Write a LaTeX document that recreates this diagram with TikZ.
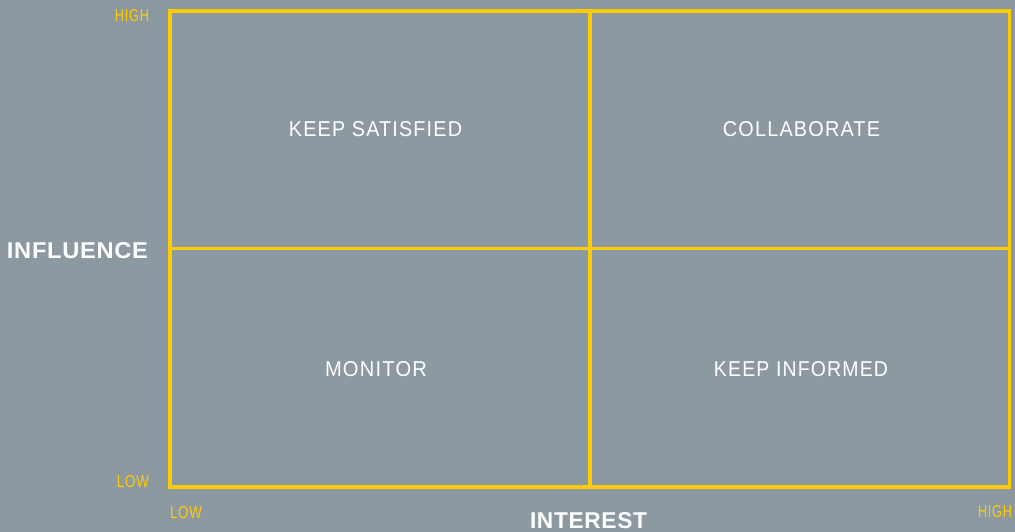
\documentclass[tikz,border=0pt]{standalone}
\usepackage{fontspec}
\usepackage{graphicx}
\setmainfont{Liberation Sans}
\newfontfamily\spacedfont[LetterSpace=6]{Liberation Sans}
\newfontfamily\boldspaced[LetterSpace=3]{Liberation Sans}
\definecolor{bgc}{HTML}{8C99A1}
\definecolor{gridy}{HTML}{FFCC00}
\newcommand{\fitbox}[3]{\resizebox{#1pt}{#2pt}{#3}}
\tikzset{
  gridline/.style={draw=gridy, line width=3.6pt},
  quadlabel/.style={text=white, inner sep=0pt, anchor=center},
  axislabel/.style={text=white, inner sep=0pt, anchor=center},
  ticklabel/.style={text=gridy, inner sep=0pt},
}
\begin{document}
\begin{tikzpicture}[x=1pt,y=-1pt]
\fill[bgc] (0,0) rectangle (1015,532);
\useasboundingbox (0,0) rectangle (1015,532);
% grid corners
\coordinate (tl) at (170,11);
\coordinate (tr) at (1009.5,11);
\coordinate (bl) at (170,487);
\coordinate (br) at (1009.5,487);
\coordinate (tm) at (590,11);
\coordinate (bm) at (590,487);
\coordinate (ml) at (170,248.5);
\coordinate (mr) at (1009.5,248.5);
\draw[gridline] (tl) rectangle (br);
\draw[gridline] (tm) -- (bm);
\draw[gridline] (ml) -- (mr);
% quadrant labels
\node[quadlabel] (ks) at (375.5,129) {\fitbox{173}{15}{\spacedfont KEEP SATISFIED}};
\node[quadlabel] (co) at (801.5,129.5) {\fitbox{157}{15}{\spacedfont COLLABORATE}};
\node[quadlabel] (mo) at (376,369.5) {\fitbox{102}{15}{\spacedfont MONITOR}};
\node[quadlabel] (ki) at (801,369.5) {\fitbox{174}{15}{\spacedfont KEEP INFORMED}};
% axis labels
\node[axislabel] (infl) at (77.5,251) {\fitbox{141}{16}{\boldspaced\bfseries INFLUENCE}};
\node[axislabel] (intr) at (588.5,521) {\fitbox{117}{16}{\boldspaced\bfseries INTEREST}};
% tick labels
\node[ticklabel, anchor=center] (yhigh) at (132,16) {\fitbox{34}{12}{\spacedfont HIGH}};
\node[ticklabel, anchor=center] (ylow) at (133,482) {\fitbox{32}{12}{\spacedfont LOW}};
\node[ticklabel, anchor=center] (xlow) at (186,512.5) {\fitbox{32}{12}{\spacedfont LOW}};
\node[ticklabel, anchor=center] (xhigh) at (995,512) {\fitbox{34}{12}{\spacedfont HIGH}};
\end{tikzpicture}
\end{document}
